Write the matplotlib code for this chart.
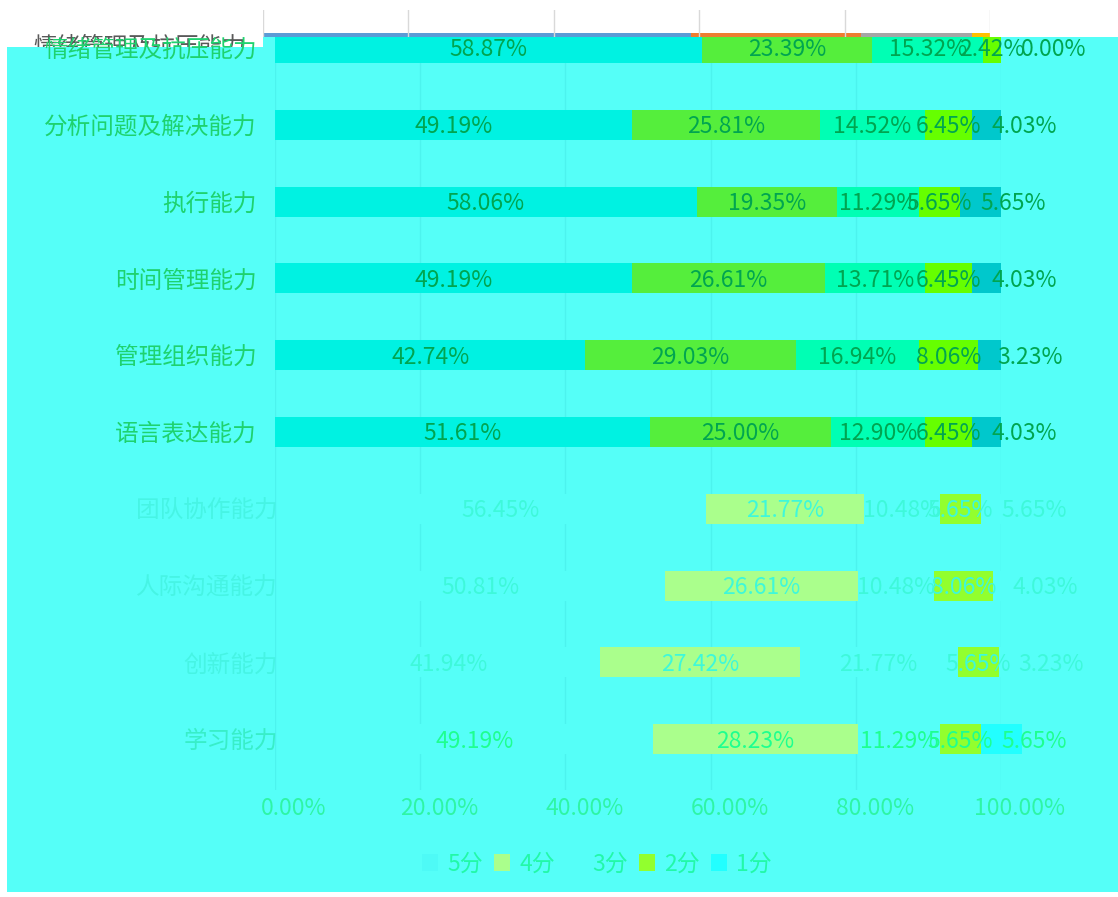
import matplotlib.pyplot as plt
from matplotlib.patches import Rectangle, Patch
from matplotlib.transforms import ScaledTranslation, Bbox, TransformedBbox

plt.rcParams['font.family'] = ['Noto Sans CJK SC', 'DejaVu Sans']

# data (percent of respondents per score)
categories = ['情绪管理及抗压能力', '分析问题及解决能力', '执行能力', '时间管理能力',
              '管理组织能力', '语言表达能力', '团队协作能力', '人际沟通能力',
              '创新能力', '学习能力']
scores = ['5分', '4分', '3分', '2分', '1分']
s5 = [58.87, 49.19, 58.06, 49.19, 42.74, 51.61, 56.45, 50.81, 41.94, 49.19]
s4 = [23.39, 25.81, 19.35, 26.61, 29.03, 25.00, 21.77, 26.61, 27.42, 28.23]
s3 = [15.32, 14.52, 11.29, 13.71, 16.94, 12.90, 10.48, 10.48, 21.77, 11.29]
s2 = [2.42, 6.45, 5.65, 6.45, 8.06, 6.45, 5.65, 8.06, 5.65, 5.65]
s1 = [0.00, 4.03, 5.65, 4.03, 3.23, 4.03, 5.65, 4.03, 3.23, 5.65]
xticks = [0, 20, 40, 60, 80, 100]

series = [s5, s4, s3, s2, s1]

# colours
BG = '#55FFF8'
top_pal = ['#00F2E2', '#55EE3C', '#00FFB4', '#66FF00', '#00C8CC']
low_pal = [BG, '#AAFF8C', BG, '#92FF2E', BG]
last_pal = [BG, '#AAFF8C', BG, '#92FF2E', '#22FFFF']
excel_pal = ['#5B9BD5', '#ED7D31', '#A5A5A5', '#FFC000', '#4472C4']

W, H = 1118, 897
fig = plt.figure(figsize=(W / 100, H / 100), dpi=100, facecolor='white')


def fx(px):
    return px / W


def fy(py):
    return 1 - py / H


def px_shift(dx, dy=0):
    return ScaledTranslation(dx / 100, dy / 100, fig.dpi_scale_trans)


# cyan backdrop
fig.add_artist(Rectangle((fx(7), fy(892)), fx(W - 7), (892 - 47) / H,
                         transform=fig.transFigure, color=BG, zorder=1, lw=0))
fig.add_artist(Rectangle((fx(263), fy(47)), fx(W - 263), 10 / H,
                         transform=fig.transFigure, color=BG, zorder=1, lw=0))
ghost = fig.text(fx(246), fy(47), categories[0], ha='right', va='center',
                 color='#595959', fontsize=17, zorder=0.5)
ghost.set_clip_box(TransformedBbox(Bbox([[0, fy(47)], [1, 1]]), fig.transFigure))
ghost.set_clip_on(True)

# main chart
ax = fig.add_axes([fx(275), fy(790), fx(1001 - 275), (790 - 37) / H])
ax.set_zorder(2)
ax.set_facecolor('none')
ax.set_xlim(0, 100)
ax.set_ylim((790 - 48) / 76.8, (37 - 48) / 76.8)
for s in ax.spines.values():
    s.set_visible(False)
ax.grid(axis='x', color='#4CF3EE', lw=1)
ax.set_axisbelow(True)

shift = px_shift(21)
down = px_shift(0, -2)

for i, cat in enumerate(categories):
    lower = i >= 6
    if i < 6:
        pal, tcol = top_pal, '#00A550'
    elif i < 9:
        pal, tcol = low_pal, '#3EF8DA'
    else:
        pal, tcol = last_pal, '#1EFF90'
    left = 0
    for j, vals in enumerate(series):
        v = vals[i]
        bars = ax.barh(i, v, left=left, height=0.39, color=pal[j], lw=0)
        if lower:
            for b in bars:
                b.set_transform(ax.transData + shift)
                b.set_clip_on(False)
        tr = ax.transData + down
        if lower:
            tr = tr + shift
        if j < 4:
            ax.text(left + v / 2, i, f'{v:.2f}%', ha='center', va='center',
                    fontsize=16.5, color=tcol, transform=tr, zorder=5)
        else:
            ax.text(left, i, f'{v:.2f}%', ha='left', va='center',
                    fontsize=16.5, color=tcol, transform=tr + px_shift(20), zorder=5)
        left += v

ax.set_yticks(range(len(categories)), categories, fontsize=17)
ax.tick_params(axis='y', length=0, pad=13)
for i, lab in enumerate(ax.get_yticklabels()):
    if i < 6:
        lab.set_color('#1ED26E')
    else:
        lab.set_color('#38EEC8' if i == 9 else '#46F4E4')
        lab.set_transform(lab.get_transform() + shift)

ax.set_xticks(xticks, [f'{t:.2f}%' for t in xticks])
ax.tick_params(axis='x', length=0, pad=5, labelsize=16.5, labelcolor='#2EF5A5')
for lab in ax.get_xticklabels():
    lab.set_transform(lab.get_transform() + px_shift(19))

# remains of the original chart at the top
ax_top = fig.add_axes([fx(263), fy(37), fx(990 - 263), 27 / H])
ax_top.set_zorder(3)
ax_top.set_facecolor('none')
ax_top.set_xlim(0, 100)
ax_top.set_ylim(0, 27)
ax_top.axis('off')
for t in xticks:
    ax_top.axvline(t, color='#D9D9D9', lw=1)
left = 0
for j, vals in enumerate(series):
    ax_top.barh(0, vals[0], left=left, height=4, align='edge', color=excel_pal[j], lw=0)
    left += vals[0]

# legend
handles = [Patch(facecolor=c, edgecolor='none')
           for c in ['#4EFAF6', '#AAFF8C', BG, '#92FF2E', '#22FFFF']]
leg = fig.legend(handles, scores, ncol=5, loc='center',
                 bbox_to_anchor=(fx(597), fy(864)), frameon=False, fontsize=16.5,
                 handlelength=0.7, handleheight=0.7, handletextpad=0.4,
                 columnspacing=0.5, labelcolor='#22F8A8')
leg.set_zorder(5)

fig.savefig('out.png', dpi=100, facecolor='white')
